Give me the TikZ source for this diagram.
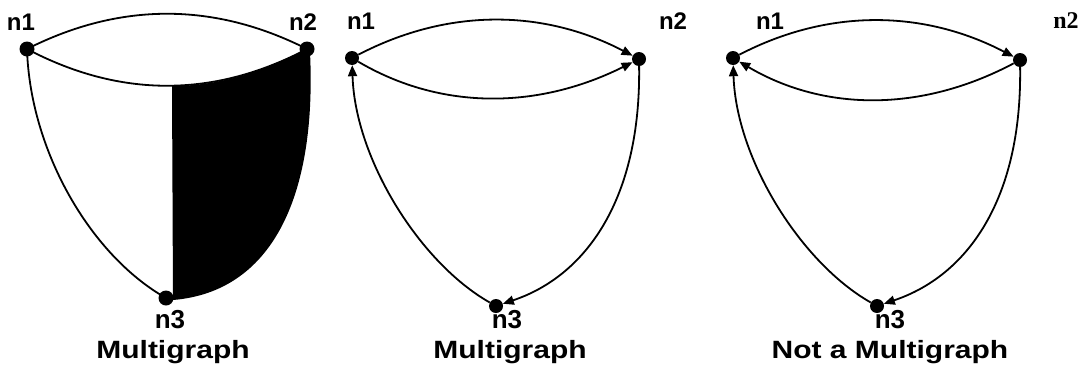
\documentclass[tikz,border=0pt]{standalone}
\usepackage{fontspec}
\setmainfont{Liberation Sans}
\newfontfamily\capfont[FakeStretch=1.2]{Liberation Sans}
\newfontfamily\serfont{Liberation Serif}
\usetikzlibrary{arrows.meta}
\begin{document}
\begin{tikzpicture}[x=1pt,y=-1pt,
  dot/.style={circle,fill=black,inner sep=0pt,minimum size=15pt},
  sdot/.style={circle,fill=black,inner sep=0pt,minimum size=14pt},
  edge/.style={line width=1.8pt},
  aedge/.style={line width=1.8pt,-{Triangle[length=11pt,width=9pt]}},
  nlab/.style={font=\fontsize{24}{26}\selectfont\bfseries,inner sep=0pt},
  n3lab/.style={font=\fontsize{26}{28}\selectfont\bfseries,inner sep=0pt},
  captext/.style={font=\fontsize{25}{27}\selectfont\capfont\bfseries,inner sep=0pt}]
\useasboundingbox (0,0) rectangle (1089,370);

% ---------- panel 1 ----------
\coordinate (a1) at (27,49);
\coordinate (a2) at (307,49);
\coordinate (a2e) at (310,52);
\coordinate (a3) at (166,298);
\coordinate (m) at (172,86);
\coordinate (a3e) at (173,300);
\fill (m) .. controls (216,86) and (262,73) .. (a2)
      -- (a2e) .. controls +(7,148) and +(97,-8) .. (a3e) -- cycle;
\draw[edge] (a1) .. controls +(93,-47) and +(-93,-47) .. (a2);
\draw[edge] (a1) .. controls +(93,49) and +(-93,49) .. (a2);
\draw[edge] (a1) .. controls +(3,101) and +(-76,-43) .. (a3);
\node[dot] (d1) at (a1) {};
\node[dot] (d2) at (a2) {};
\node[dot] (d3) at (a3) {};
\node[nlab] (l1) at (21,22) {n1};
\node[nlab] (l2) at (303,22) {n2};
\node[n3lab] (l3) at (170,320) {n3};
\node[captext] (c1) at (173,352) {Multigraph};

% ---------- panel 2 ----------
\node[sdot] (b1) at (352,58) {};
\node[sdot] (b2) at (639,59) {};
\node[sdot] (b3) at (496,306) {};
\draw[aedge] (b1) .. controls +(96,-50) and +(-96,-50) .. (b2);
\draw[aedge] (b1) .. controls +(90,53) and +(-100,50) .. (b2);
\draw[aedge] (b3) .. controls +(-76,-43) and +(3,101) .. (b1);
\draw[aedge] (b2) .. controls +(2,140) and +(90,-30) .. (b3);
\node[nlab] (m1) at (361,21) {n1};
\node[nlab] (m2) at (673,21) {n2};
\node[n3lab] (m3) at (507,320) {n3};
\node[captext] (c2) at (510,352) {Multigraph};

% ---------- panel 3 ----------
\node[sdot] (e1) at (733,58) {};
\node[sdot] (e2) at (1020,60) {};
\node[sdot] (e3) at (877,306) {};
\draw[aedge] (e1) .. controls +(96,-50) and +(-96,-50) .. (e2);
\draw[aedge] (e2) .. controls +(-100,53) and +(90,53) .. (e1);
\draw[aedge] (e3) .. controls +(-76,-43) and +(3,101) .. (e1);
\draw[aedge] (e2) .. controls +(2,140) and +(90,-30) .. (e3);
\node[nlab] (k1) at (770,21) {n1};
\node[font=\fontsize{24}{26}\selectfont\serfont\bfseries,inner sep=0pt] (k2) at (1066,21) {n2};
\node[n3lab] (k3) at (890,320) {n3};
\node[captext] (c3) at (890,352) {Not a Multigraph};
\end{tikzpicture}
\end{document}
